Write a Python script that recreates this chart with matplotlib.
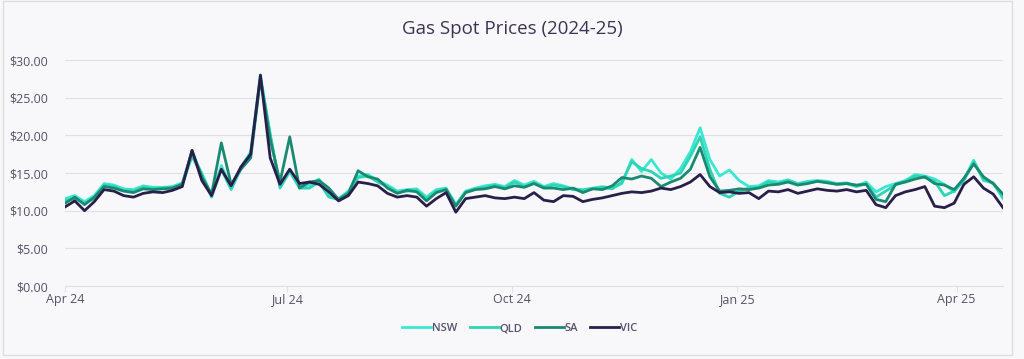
import numpy as np
import pandas as pd
import matplotlib
matplotlib.use("Agg")
import matplotlib.pyplot as plt
import matplotlib.dates as mdates
from matplotlib.ticker import FuncFormatter

plt.rcParams['font.family'] = ['Open Sans', 'DejaVu Sans']

# spot price readings, one every 4 days from 1 Apr 2024
start_date = '2024-04-01'
step = '4D'

nsw = [11.6, 12.0, 11.2, 12.0, 13.6, 13.4, 12.9, 12.8, 13.3, 13.1, 13.1, 13.2, 13.7,
       17.5, 15.0, 12.0, 16.0, 13.0, 15.8, 17.8, 28.0, 20.0, 13.4, 15.5, 13.2, 13.4,
       14.2, 12.0, 11.6, 12.6, 14.6, 14.8, 14.0, 13.4, 12.6, 12.8, 12.9, 11.8, 12.8,
       13.0, 10.8, 12.6, 13.0, 13.3, 13.5, 13.2, 14.0, 13.4, 13.9, 13.2, 13.6, 13.3,
       12.9, 12.8, 13.0, 13.2, 13.0, 13.6, 16.8, 15.2, 16.8, 15.0, 14.2, 15.6, 17.8,
       21.0, 16.8, 14.6, 15.4, 14.0, 13.2, 13.3, 14.0, 13.8, 14.1, 13.6, 13.9, 14.0,
       13.9, 13.6, 13.7, 13.3, 13.8, 12.5, 13.2, 13.6, 14.0, 14.8, 14.6, 14.2, 13.5,
       12.5, 14.2, 16.7, 14.0, 13.7, 11.6]

qld = [11.3, 11.6, 11.0, 11.6, 13.4, 13.2, 12.7, 12.6, 13.1, 12.9, 13.0, 13.1, 13.5,
       17.2, 14.8, 11.8, 15.5, 12.8, 15.6, 17.5, 27.6, 20.2, 13.0, 15.2, 13.0, 13.0,
       13.8, 11.8, 11.5, 12.4, 14.4, 14.6, 13.8, 13.2, 12.4, 12.6, 12.7, 11.6, 12.6,
       12.9, 10.7, 12.5, 12.9, 13.1, 13.4, 13.0, 13.8, 13.2, 13.7, 13.1, 13.4, 13.2,
       12.8, 12.7, 12.9, 13.1, 12.9, 13.8, 16.5, 15.6, 15.2, 14.3, 14.6, 15.0, 17.2,
       19.8, 15.5, 12.3, 11.8, 12.6, 13.0, 13.1, 13.8, 13.6, 14.0, 13.5, 13.7, 13.9,
       13.8, 13.5, 13.6, 13.2, 13.6, 11.8, 12.6, 13.4, 13.9, 14.6, 14.4, 13.9, 12.0,
       12.6, 14.0, 16.5, 14.2, 13.6, 11.8]

sa = [11.0, 11.8, 10.8, 11.8, 13.2, 13.0, 12.6, 12.4, 12.9, 12.8, 12.9, 13.0, 13.5,
      18.0, 14.5, 12.2, 19.0, 13.5, 15.5, 17.0, 27.5, 19.5, 13.8, 19.8, 13.0, 13.8,
      14.0, 13.0, 11.5, 12.3, 15.3, 14.5, 14.2, 13.0, 12.3, 12.7, 12.5, 11.3, 12.4,
      12.8, 10.6, 12.4, 12.8, 12.9, 13.2, 12.9, 13.3, 13.1, 13.6, 13.0, 13.0, 12.8,
      13.0, 12.4, 12.9, 12.8, 13.3, 14.4, 14.2, 14.6, 14.3, 13.2, 13.8, 14.3, 15.5,
      18.4, 14.5, 12.6, 12.7, 12.9, 12.8, 13.0, 13.4, 13.5, 13.8, 13.4, 13.6, 13.9,
      13.7, 13.5, 13.6, 13.4, 13.5, 11.5, 11.2, 13.5, 13.8, 14.2, 14.5, 13.6, 13.4,
      12.8, 14.3, 16.2, 14.5, 13.6, 12.2]

vic = [10.5, 11.3, 10.0, 11.2, 12.8, 12.6, 12.0, 11.8, 12.3, 12.5, 12.4, 12.7, 13.2,
       18.0, 14.0, 12.0, 15.5, 13.3, 15.8, 17.5, 28.0, 17.0, 13.5, 15.5, 13.6, 13.8,
       13.5, 12.5, 11.3, 12.0, 13.8, 13.6, 13.3, 12.3, 11.8, 12.0, 11.8, 10.6, 11.6,
       12.4, 9.8, 11.6, 11.8, 12.0, 11.7, 11.6, 11.8, 11.6, 12.4, 11.4, 11.2, 12.0,
       11.9, 11.2, 11.5, 11.7, 12.0, 12.3, 12.5, 12.4, 12.6, 13.0, 12.8, 13.2, 13.8,
       14.8, 13.2, 12.4, 12.5, 12.3, 12.4, 11.6, 12.6, 12.5, 12.8, 12.3, 12.6, 12.9,
       12.7, 12.6, 12.8, 12.5, 12.7, 10.8, 10.4, 12.0, 12.5, 12.8, 13.2, 10.6, 10.4,
       11.0, 13.5, 14.5, 13.0, 12.2, 10.4]

series = ['NSW', 'QLD', 'SA', 'VIC']
colors = ['#3ae8d2', '#2cd6b4', '#198a72', '#2a1e4a']

dates = pd.date_range(start_date, periods=len(vic), freq=step)

fig = plt.figure(figsize=(10.24, 3.59), dpi=100, facecolor='#f8f8fa')
ax = fig.add_axes([0.0635, 0.2033, 0.916, 0.6295])
ax.set_facecolor('#f8f8fa')

# card border
fig.patches.append(plt.Rectangle((0.003, 0.012), 0.985, 0.985, transform=fig.transFigure,
                                 fill=False, edgecolor='#dedde3', linewidth=1.0))

for name, vals, c in zip(series, [nsw, qld, sa, vic], colors):
    ax.plot(dates, vals, color=c, linewidth=2.0, label=name, solid_joinstyle='round')

ax.set_xlim(dates[0], dates[-1])
ax.set_ylim(0, 30)
ax.set_yticks(np.arange(0, 31, 5))
ax.yaxis.set_major_formatter(FuncFormatter(lambda v, p: f'${v:.2f}'))
ax.xaxis.set_major_locator(mdates.MonthLocator(bymonth=[1, 4, 7, 10]))
ax.xaxis.set_major_formatter(mdates.DateFormatter('%b %y'))

ax.grid(axis='y', color='#e1dfe8', linewidth=0.8)
ax.set_axisbelow(True)
for s in ['top', 'right', 'left']:
    ax.spines[s].set_visible(False)
ax.spines['bottom'].set_color('#e1dfe8')
ax.tick_params(axis='y', length=0, pad=12, labelsize=9)
ax.tick_params(axis='x', length=4, color='#e1dfe8', pad=1, labelsize=9)
for lab in ax.get_xticklabels() + ax.get_yticklabels():
    lab.set_color('#57516a')
    lab.set_fontweight('medium')

fig.text(0.5, 0.918, 'Gas Spot Prices (2024-25)', ha='center', va='center',
         fontsize=13.5, color='#3c3452')

leg = ax.legend(loc='upper center', bbox_to_anchor=(0.485, -0.12), ncol=4, frameon=False,
                fontsize=8, labelcolor='#57516a', handlelength=2.6, handletextpad=0.1,
                columnspacing=1.1)
for t in leg.get_texts():
    t.set_fontweight('semibold')

fig.savefig('out.png', dpi=100, facecolor=fig.get_facecolor())
